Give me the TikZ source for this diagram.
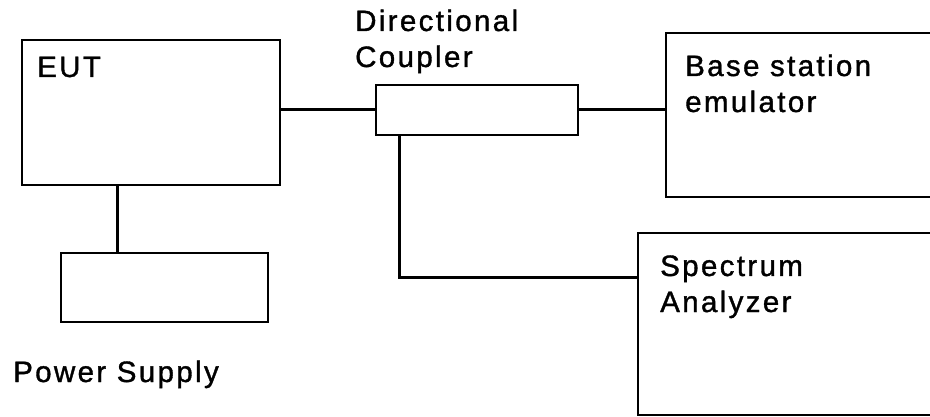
\documentclass[tikz,border=0pt]{standalone}
\usepackage{fontspec}
\setmainfont{Liberation Sans}[LetterSpace=8,FakeBold=1.2]
\usepackage{tikz}
\usetikzlibrary{calc}

\tikzset{
  unit/.style={draw,line width=1.8pt,inner sep=0pt,outer sep=0pt,anchor=north west},
  wire/.style={line width=3pt},
  tag/.style={inner sep=0pt,anchor=base west,align=left,font=\fontsize{29.5}{36}\selectfont}
}

\begin{document}
\begin{tikzpicture}[x=1pt,y=-1pt]
              \useasboundingbox (0,0) rectangle (930,417);
              \clip (0,0) rectangle (930,417);
              \node[unit,minimum width=258pt,minimum height=145pt](eut)at(22,40){};
              \node[unit,minimum width=202pt,minimum height=50pt](cpl)at(376,85){};
              \node[unit,minimum width=300pt,minimum height=164pt](bse)at(666,33){};
              \node[unit,minimum width=330pt,minimum height=182pt](spa)at(638,233){};
              \node[unit,minimum width=207pt,minimum height=69pt](psu)at(61,253){};
              % labels: anchor is the baseline of the last line
              \node[tag](teut)at(37,77){EUT};
              \node[tag](tcpl)at(355,67){Directional\\Coupler};
              \node[tag](tbse)at(685,112){Base station\\emulator};
              \node[tag](tspa)at(660,312){Spectrum\\Analyzer};
              \node[tag](tpsu)at(13,382){Power Supply};
              \draw[wire](eut.east|-cpl.west)--(cpl.west);
              \draw[wire](cpl.east)--(cpl.east-|bse.west);
              \draw[wire]([xshift=23pt]cpl.south west)|-([yshift=-44pt]spa.north west);
              \draw[wire]([xshift=95pt]eut.south west)--([xshift=56pt]psu.north west);
            \end{tikzpicture}
\end{document}
